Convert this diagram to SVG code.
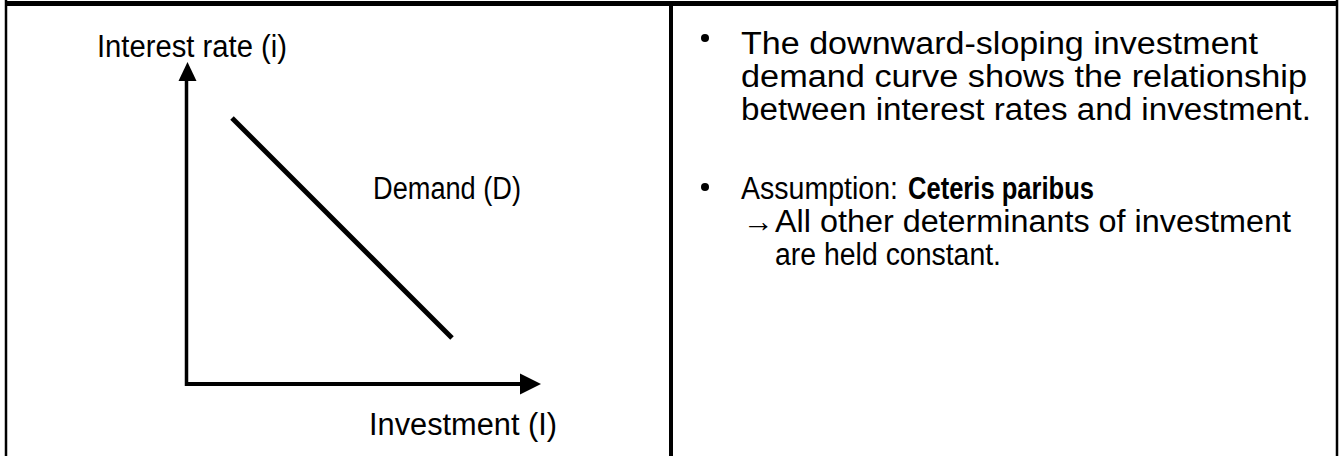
<svg xmlns="http://www.w3.org/2000/svg" width="1343" height="456" viewBox="0 0 1343 456">
<style>
.t{font-family:"Liberation Sans",Arial,sans-serif;font-size:31px;fill:#000}
.b{font-weight:bold}
.ln{stroke:#000;fill:none}
</style>
<rect width="1343" height="456" fill="#fff"/>
<g id="frame">
<line class="ln" x1="6" y1="0" x2="6" y2="456" stroke-width="2.5"/>
<line class="ln" x1="1337" y1="0" x2="1337" y2="456" stroke-width="2.5"/>
<line class="ln" x1="5" y1="3.5" x2="1338" y2="3.5" stroke-width="5"/>
<line class="ln" x1="671" y1="3" x2="671" y2="456" stroke-width="4"/>
</g>
<g id="connectors">
<line class="ln" x1="186.5" y1="386" x2="186.5" y2="80" stroke-width="3.5"/>
<polygon points="187.5,62 178.5,81 196.5,81" fill="#000"/>
<line class="ln" x1="185" y1="384" x2="521" y2="384" stroke-width="4"/>
<polygon points="541,384 520,373.5 520,394.5" fill="#000"/>
<line class="ln" x1="232" y1="118" x2="452" y2="338" stroke-width="5"/>
</g>
<g id="axis-y-label"><text class="t" x="97" y="57" textLength="190" lengthAdjust="spacingAndGlyphs">Interest rate (i)</text></g>
<g id="axis-x-label"><text class="t" x="369" y="435" textLength="188" lengthAdjust="spacingAndGlyphs">Investment (I)</text></g>
<g id="demand-label"><text class="t" x="373" y="199" textLength="148" lengthAdjust="spacingAndGlyphs">Demand (D)</text></g>
<g id="bullets">
<circle cx="705" cy="38" r="4"/>
<circle cx="705" cy="187" r="4"/>
<text class="t" x="741" y="54" textLength="517" lengthAdjust="spacingAndGlyphs">The downward-sloping investment</text>
<text class="t" x="741" y="87" textLength="566" lengthAdjust="spacingAndGlyphs">demand curve shows the relationship</text>
<text class="t" x="741" y="120" textLength="570" lengthAdjust="spacingAndGlyphs">between interest rates and investment.</text>
<text class="t" x="741" y="199" textLength="157" lengthAdjust="spacingAndGlyphs">Assumption:</text>
<text class="t b" x="908" y="199" textLength="186" lengthAdjust="spacingAndGlyphs">Ceteris paribus</text>
<text class="t" x="743" y="232">→</text>
<text class="t" x="775" y="232" textLength="516" lengthAdjust="spacingAndGlyphs">All other determinants of investment</text>
<text class="t" x="775" y="265" textLength="226" lengthAdjust="spacingAndGlyphs">are held constant.</text>
</g>
</svg>
